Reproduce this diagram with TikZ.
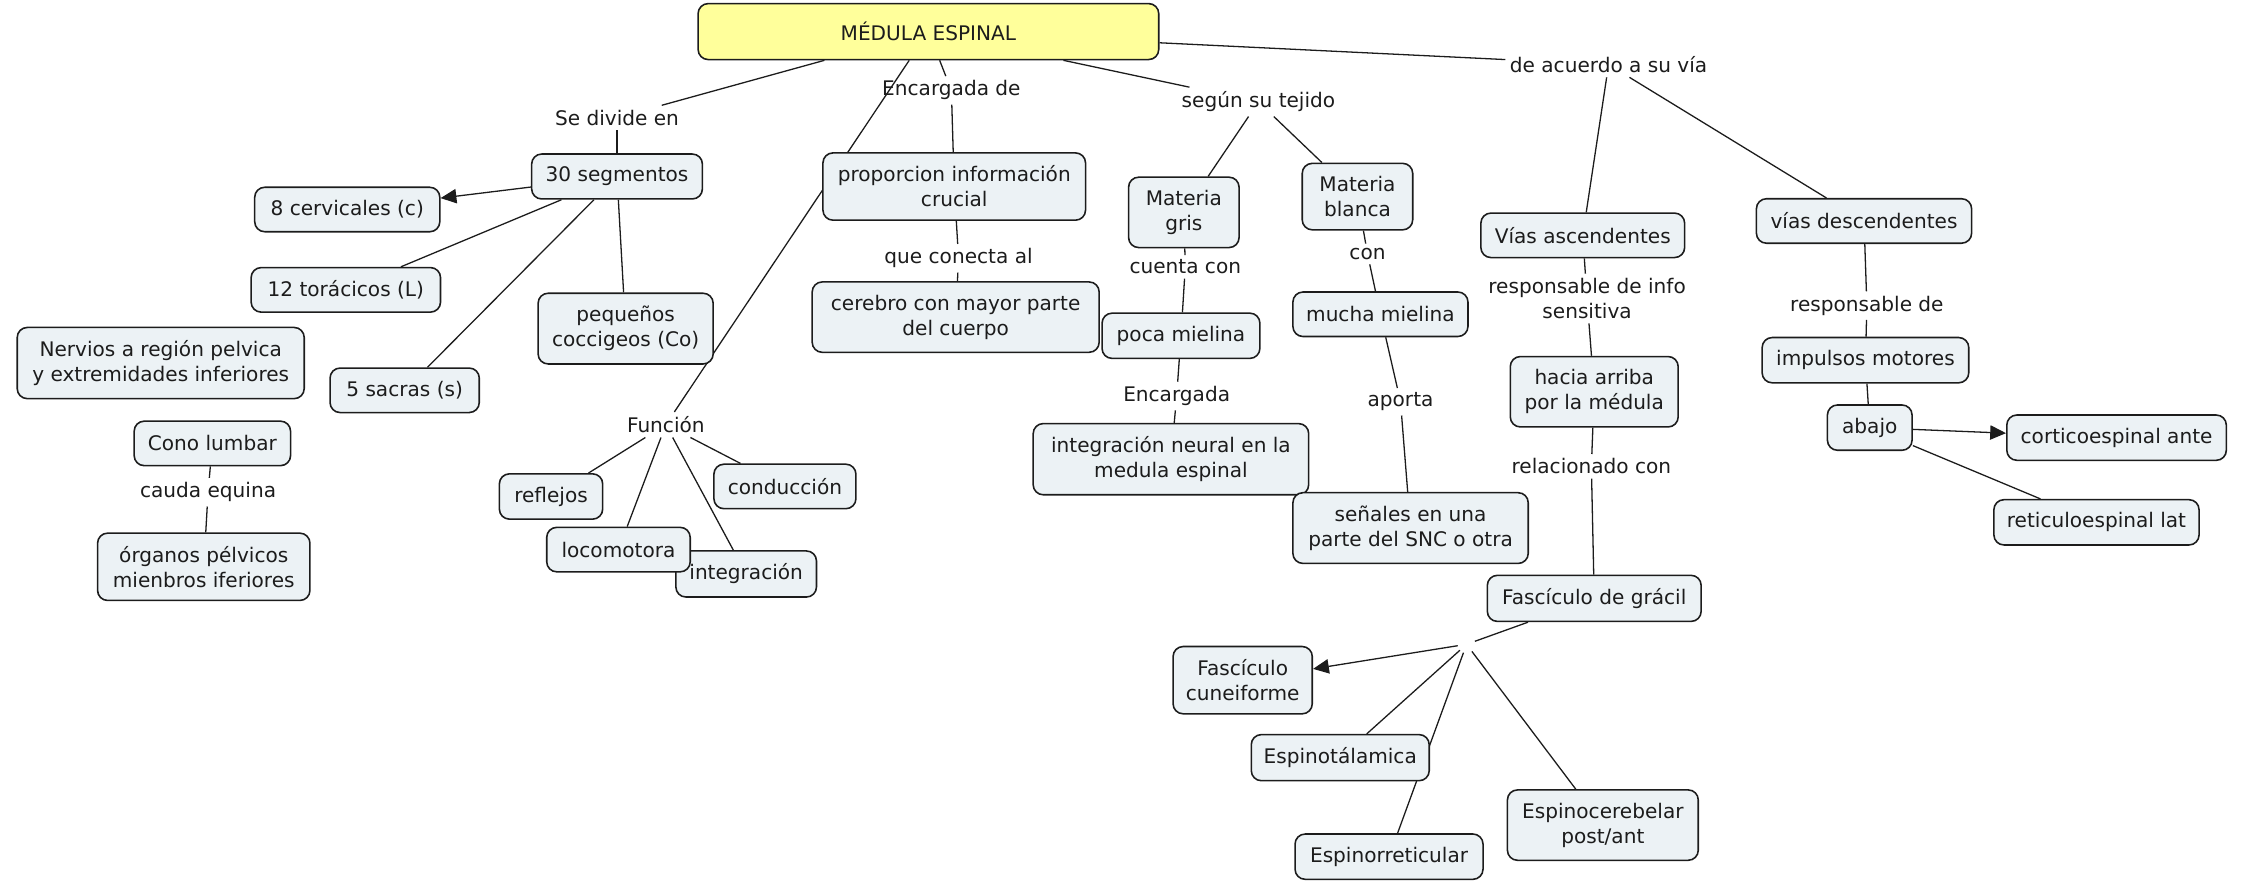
\documentclass[tikz,border=0pt]{standalone}
\usepackage{fontspec}
\setmainfont{DejaVu Sans}
\usepackage{xcolor}
\usepackage{tikz}
\usetikzlibrary{arrows.meta,backgrounds}

\definecolor{conceptfill}{RGB}{236,242,245}
\definecolor{mainfill}{RGB}{255,255,155}
\definecolor{inkgray}{RGB}{28,28,28}

\tikzset{
  concept/.style={draw=inkgray, line width=1.1pt, fill=conceptfill, rounded corners=7pt,
    inner xsep=8pt, inner ysep=9pt, minimum height=31pt, align=center, text=inkgray},
  mainconcept/.style={concept, fill=mainfill, minimum height=39pt},
  phrase/.style={inner sep=3pt, align=center, text=inkgray},
  hubpoint/.style={circle, inner sep=0pt, minimum size=12pt},
  link/.style={draw=inkgray, line width=0.9pt},
  arrowlink/.style={link, -{Triangle[length=11pt,width=10pt]}}
}

\begin{document}
\begin{tikzpicture}[x=1pt, y=-1pt, font=\fontsize{14}{17.5}\selectfont]
            \useasboundingbox (0,0) rectangle (1568,615);

            % main concept
            \node[mainconcept, minimum width=321pt] (medula) at (647,22) {MÉDULA ESPINAL};

            % segmentos
            \node[phrase] (sedivide) at (430,82) {Se divide en};
            \node[concept, minimum width=119pt] (seg30) at (430,123) {30 segmentos};
            \node[concept, minimum width=129pt] (cerv) at (242,146) {8 cervicales (c)};
            \node[concept, minimum width=132pt] (tor) at (241,202) {12 torácicos (L)};
            \node[concept, minimum width=122pt] (cocc) at (436,229) {pequeños\\coccigeos (Co)};
            \node[concept, minimum width=200pt] (nerv) at (112,253) {Nervios a región pelvica\\y extremidades inferiores};
            \node[concept, minimum width=104pt] (sacras) at (282,272) {5 sacras (s)};
            \node[concept, minimum width=109pt] (cono) at (148,309) {Cono lumbar};
            \node[phrase] (cauda) at (145,343) {cauda equina};
            \node[concept, minimum width=148pt] (organos) at (142,395) {órganos pélvicos\\mienbros iferiores};

            % encargada de
            \node[phrase] (encargada) at (663,63) {Encargada de};
            \node[concept, minimum width=183pt] (prop) at (665,130) {proporcion información\\crucial};
            \node[phrase] (conecta) at (668,180) {que conecta al};
            \node[concept, minimum width=200pt] (cerebro) at (666,221) {cerebro con mayor parte\\del cuerpo};

            % funcion
            \node[phrase] (funcion) at (464,296) {Función};
            \node[concept, minimum width=72pt] (reflejos) at (384,346) {reflejos};
            \node[concept, minimum width=99pt] (conduccion) at (547,339) {conducción};
            \node[concept, minimum width=98pt] (integracion) at (520,400) {integración};
            \node[concept, minimum width=100pt] (locomotora) at (431,383) {locomotora};

            % tejido
            \node[phrase] (segun) at (877,71) {según su tejido};
            \node[concept, minimum width=77pt] (gris) at (825,148) {Materia\\gris};
            \node[concept, minimum width=77pt] (blanca) at (946,137) {Materia\\blanca};
            \node[phrase] (cuenta) at (826,186) {cuenta con};
            \node[concept, minimum width=110pt] (poca) at (823,234) {poca mielina};
            \node[phrase] (con) at (953,177) {con};
            \node[concept, minimum width=122pt] (mucha) at (962,219) {mucha mielina};
            \node[phrase] (encargadab) at (820,276) {Encargada};
            \node[concept, minimum width=192pt] (neural) at (816,320) {integración neural en la\\medula espinal};
            \node[phrase] (aporta) at (976,280) {aporta};
            \node[concept, minimum width=164pt] (senales) at (983,368) {señales en una\\parte del SNC o otra};

            % vias ascendentes
            \node[phrase] (acuerdo) at (1121,45) {de acuerdo a su vía};
            \node[concept, minimum width=142pt] (asc) at (1103,164) {Vías ascendentes};
            \node[phrase] (respinfo) at (1106,208) {responsable de info\\sensitiva};
            \node[concept, minimum width=117pt] (arriba) at (1111,273) {hacia arriba\\por la médula};
            \node[phrase] (relacionado) at (1109,325) {relacionado con};
            \node[concept, minimum width=149pt] (gracil) at (1111,417) {Fascículo de grácil};
            \node[hubpoint] (hub) at (1022,449) {};
            \node[concept, minimum width=97pt] (cuneiforme) at (866,474) {Fascículo\\cuneiforme};
            \node[concept, minimum width=124pt] (talamica) at (934,528) {Espinotálamica};
            \node[concept, minimum width=131pt] (reticular) at (968,597) {Espinorreticular};
            \node[concept, minimum width=133pt] (cerebelar) at (1117,575) {Espinocerebelar\\post/ant};

            % vias descendentes
            \node[concept, minimum width=150pt] (desc) at (1299,154) {vías descendentes};
            \node[phrase] (respde) at (1301,213) {responsable de};
            \node[concept, minimum width=144pt] (impulsos) at (1300,251) {impulsos motores};
            \node[concept, minimum width=59pt] (abajo) at (1303,298) {abajo};
            \node[concept, minimum width=153pt] (cortico) at (1475,305) {corticoespinal ante};
            \node[concept, minimum width=143pt] (reticulo) at (1461,364) {reticuloespinal lat};

            \begin{scope}[on background layer]
            \draw[link] (medula) -- (sedivide);
            \draw[link] (sedivide) -- (seg30);
            \draw[arrowlink] (seg30) -- (cerv);
            \draw[link] (seg30) -- (tor);
            \draw[link] (seg30) -- (sacras);
            \draw[link] (seg30) -- (cocc);
            \draw[link] (cono) -- (cauda);
            \draw[link] (cauda) -- (organos);

            \draw[link] (medula) -- (encargada);
            \draw[link] (encargada) -- (prop);
            \draw[link] (prop) -- (conecta);
            \draw[link] (conecta) -- (cerebro);

            \draw[link] (medula) -- (funcion); % runs behind prop
            \draw[link] (funcion) -- (reflejos);
            \draw[link] (funcion) -- (locomotora);
            \draw[link] (funcion) -- (integracion);
            \draw[link] (funcion) -- (conduccion);

            \draw[link] (medula) -- (segun);
            \draw[link] (segun) -- (gris);
            \draw[link] (segun) -- (blanca);
            \draw[link] (gris) -- (cuenta);
            \draw[link] (cuenta) -- (poca);
            \draw[link] (poca) -- (encargadab);
            \draw[link] (encargadab) -- (neural);
            \draw[link] (blanca) -- (con);
            \draw[link] (con) -- (mucha);
            \draw[link] (mucha) -- (aporta);
            \draw[link] (aporta) -- (senales);

            \draw[link] (medula) -- (acuerdo);
            \draw[link] (acuerdo) -- (asc);
            \draw[link] (acuerdo) -- (desc);
            \draw[link] (asc) -- (respinfo);
            \draw[link] (respinfo) -- (arriba);
            \draw[link] (arriba) -- (relacionado);
            \draw[link] (relacionado) -- (gracil);
            \draw[link] (gracil) -- (hub);
            \draw[arrowlink] (hub) -- (cuneiforme);
            \draw[link] (hub) -- (talamica);
            \draw[link] (hub) -- (reticular); % runs behind talamica
            \draw[link] (hub) -- (cerebelar);

            \draw[link] (desc) -- (respde);
            \draw[link] (respde) -- (impulsos);
            \draw[link] (impulsos) -- (abajo);
            \draw[arrowlink] (abajo) -- (cortico);
            \draw[link] (abajo) -- (reticulo);
            \end{scope}
        \end{tikzpicture}
\end{document}
